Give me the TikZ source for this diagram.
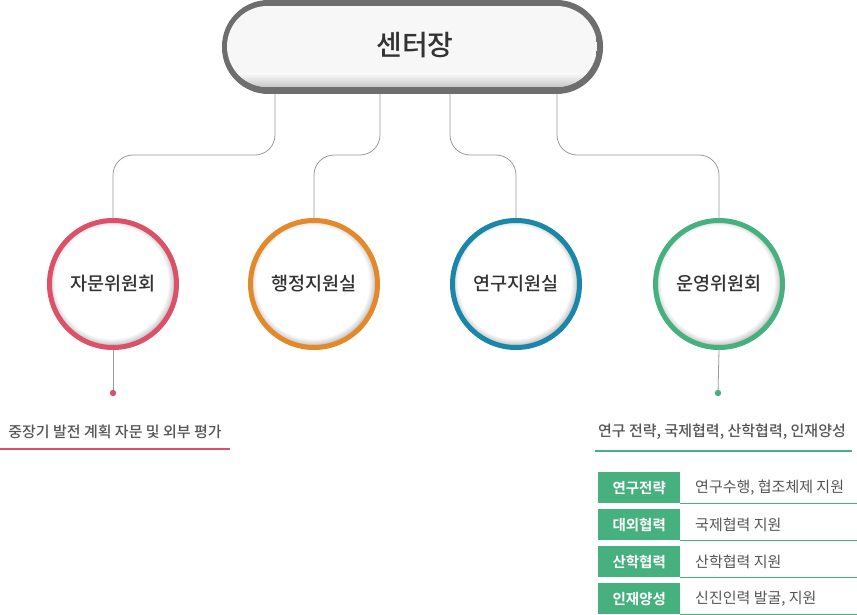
\documentclass[tikz,border=0pt]{standalone}
\usepackage{fontspec}
\setmainfont{Noto Sans CJK KR}[BoldFont={Noto Sans CJK KR Bold}]
\newfontfamily\medfont{Noto Sans CJK KR Medium}
\usetikzlibrary{calc}
\definecolor{cred}{HTML}{DC5068}
\definecolor{corange}{HTML}{E3892A}
\definecolor{cblue}{HTML}{1A87A9}
\definecolor{cgreen}{HTML}{46B07F}
\definecolor{cline}{HTML}{9A9A9A}
\definecolor{ctext}{HTML}{333333}
\definecolor{csub}{HTML}{555555}
\definecolor{cpillb}{HTML}{6E6E6E}
\definecolor{cpillf}{HTML}{F7F7F7}
\pgfdeclareradialshading{innershade}{\pgfpoint{0bp}{0bp}}{color(0bp)=(white); color(22.5bp)=(white); color(25bp)=(black!20); color(50bp)=(black!20)}
\tikzset{
  conn/.style={draw=cline, line width=0.8pt, rounded corners=20pt},
  ring/.style={circle, draw=#1, line width=5pt, minimum size=127pt, inner sep=0pt, font=\medfont\fontsize{18.5}{22}\selectfont, text=ctext},
  dotline/.style={draw=cline, line width=0.8pt},
  subtext/.style={font=\medfont\fontsize{15}{17}\selectfont, text=csub},
  lab/.style={fill=cgreen, minimum width=82pt, minimum height=31pt, inner sep=0pt, font=\bfseries\fontsize{14.5}{16}\selectfont, text=white},
  desc/.style={anchor=west, font=\fontsize{15}{17}\selectfont, text=csub, inner sep=0pt},
}
\begin{document}
\begin{tikzpicture}[x=1pt,y=-1pt]
\useasboundingbox (0,0) rectangle (857,615);
% pill
\fill[cpillb, rounded corners=46.5pt] (222,0) rectangle (603,94);
\begin{scope}
  \clip[rounded corners=40.5pt] (227,6) rectangle (597,87);
  \fill[cpillf] (227,6) rectangle (597,87);
  \shade[top color=cpillf, bottom color=black!22] (227,74) rectangle (597,87);
\end{scope}
\node[font=\medfont\fontsize{28}{32}\selectfont, text=ctext] (pill) at (415,45) {센터장};
% pill anchor points
\coordinate (p1) at (275,94);
\coordinate (p2) at (380,94);
\coordinate (p3) at (450,94);
\coordinate (p4) at (557,94);
% circles
\foreach \n/\x/\c in {c1/113/cred, c2/314/corange, c3/516/cblue, c4/719/cgreen}{
  \begin{scope}
    \clip (\x,284) circle (62);
    \fill[black!20] (\x,284) circle (62);
    \shade[shading=innershade] (\x-1.5,282) circle (62.5);
  \end{scope}
}
\node[ring=cred] (c1) at (113,284) {자문위원회};
\node[ring=corange] (c2) at (314,284) {행정지원실};
\node[ring=cblue] (c3) at (516,284) {연구지원실};
\node[ring=cgreen] (c4) at (719,284) {운영위원회};
% connectors
\draw[conn] (p1) |- (113,155) -- (c1.north);
\draw[conn] (p2) |- (314,155) -- (c2.north);
\draw[conn] (p3) |- (516,155) -- (c3.north);
\draw[conn] (p4) |- (719,155) -- (c4.north);
% lower dots
\coordinate (d1) at (113,393);
\coordinate (d4) at (718,393);
\draw[dotline] (c1.south) -- (d1);
\draw[dotline] (c4.south) -- (d4);
\fill[cred] (d1) circle (3.2);
\fill[cgreen] (d4) circle (3.2);
% left text
\node[subtext] (t1) at (115,432) {중장기 발전 계획 자문 및 외부 평가};
\draw[cred, line width=2pt] (0,449) -- (230,449);
% right text
\node[subtext] (t4) at (722,432) {연구 전략, 국제협력, 산학협력, 인재양성};
\draw[cgreen, line width=2pt] (595,451) -- (852,451);
% table
\foreach \y/\a/\b in {472/연구전략/{연구수행, 협조체제 지원}, 509/대외협력/{국제협력 지원}, 546/산학협력/{산학협력 지원}, 583/인재양성/{신진인력 발굴, 지원}}{
  \node[lab, anchor=north west] (l\y) at (598,\y) {\a};
  \node[desc] (r\y) at (695,\y+15.5) {\b};
  \draw[cgreen, line width=1.5pt] (l\y.south east) -- ++(177,0);
}
\end{tikzpicture}
\end{document}
